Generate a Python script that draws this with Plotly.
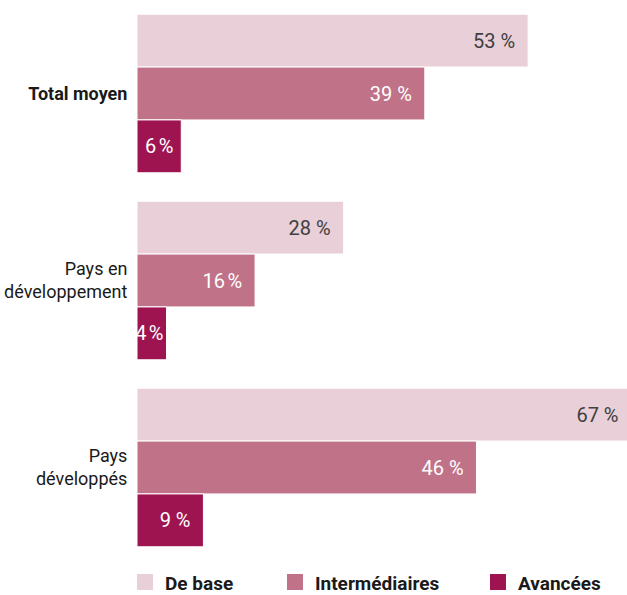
import plotly.graph_objects as go

# Share of countries' adults at each skill level
categories = ["<b>Total moyen</b>", "Pays en<br>développement", "Pays<br>développés"]
series_names = ["De base", "Intermédiaires", "Avancées"]
de_base = [53, 28, 67]
intermediaires = [39, 16, 46]
avancees = [6, 4, 9]

colors = ["#e8cfd8", "#c07289", "#9e1450"]
text_colors = ["#404040", "#ffffff", "#ffffff"]

FONT = "Roboto, sans-serif"

# short bars get a narrow space before "%" and less right padding
NARROW = {4, 6, 16}
TRAIL = {4: "", 6: "\u00a0"}


def label(v):
    sep = "\u202f" if v in NARROW else " "
    return f"{v}{sep}%" + TRAIL.get(v, "\u00a0\u00a0")


# one legend per series so each entry sits at its own spot on the bottom row
legend_ids = ["legend", "legend2", "legend3"]
legend_x = [-0.0245, 0.2816, 0.6959]

fig = go.Figure()
for name, vals, col, tcol, lg in zip(series_names, [de_base, intermediaires, avancees],
                                     colors, text_colors, legend_ids):
    fig.add_trace(go.Bar(
        y=categories,
        x=vals,
        name=name,
        orientation="h",
        marker=dict(color=col, line=dict(color="#ffffff", width=1)),
        text=[label(v) for v in vals],
        textposition="inside",
        insidetextanchor="end",
        constraintext="none",
        textangle=0,
        textfont=dict(family=FONT, size=20, color=tcol),
        hoverinfo="skip",
        showlegend=False,
        legendgroup=name,
    ))
    # legend key: a square swatch for the series
    fig.add_trace(go.Scatter(
        x=[None], y=[None],
        mode="markers",
        name=name,
        marker=dict(symbol="square", size=16, color=col, line=dict(width=0)),
        legendgroup=name,
        legend=lg,
        hoverinfo="skip",
    ))

legend_common = dict(
    orientation="h",
    xanchor="left",
    y=-0.004, yanchor="top",
    font=dict(family=FONT, size=19, color="#1a1a1a", weight="bold"),
    bgcolor="rgba(0,0,0,0)",
)

fig.update_layout(
    width=627,
    height=595,
    margin=dict(l=137, r=0, t=0, b=34, autoexpand=False),
    barmode="group",
    bargap=0.152,
    bargroupgap=0,
    paper_bgcolor="#ffffff",
    plot_bgcolor="#ffffff",
    font=dict(family=FONT, size=18, color="#1a1a1a"),
    showlegend=True,
    legend=dict(x=legend_x[0], **legend_common),
    legend2=dict(x=legend_x[1], **legend_common),
    legend3=dict(x=legend_x[2], **legend_common),
    xaxis=dict(range=[0, 66.4], visible=False, fixedrange=True),
    yaxis=dict(
        autorange="reversed",
        showgrid=False,
        showline=False,
        zeroline=False,
        ticks="outside",
        ticklen=5,
        tickcolor="rgba(0,0,0,0)",
        tickfont=dict(family=FONT, size=18, color="#1a1a1a"),
    ),
)

fig.write_html("out.html")
